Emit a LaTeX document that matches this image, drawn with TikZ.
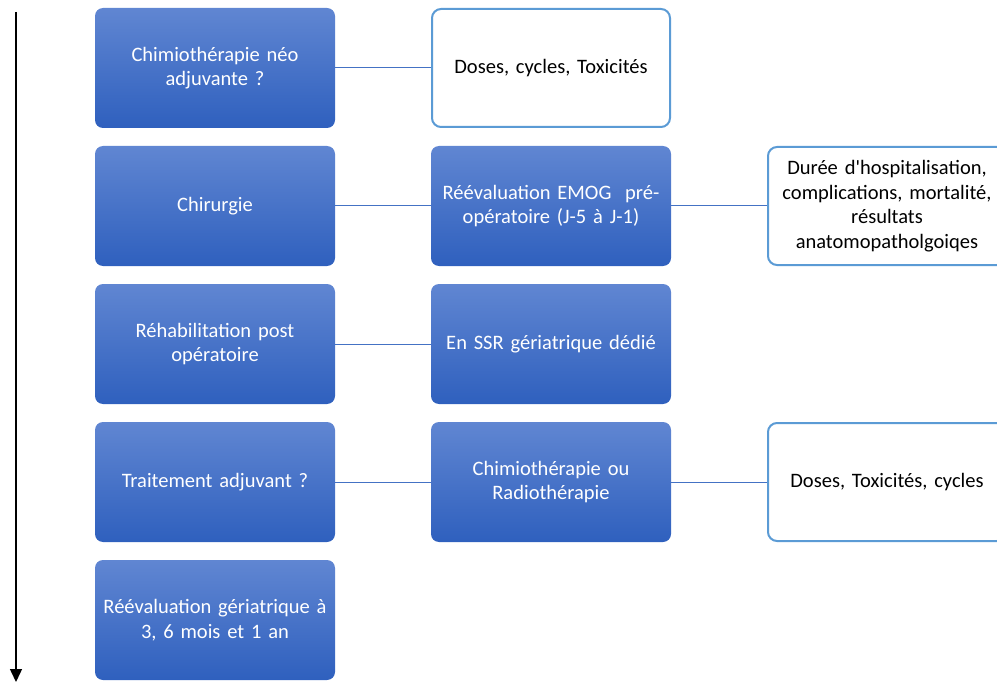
\documentclass[tikz,border=0pt]{standalone}
\usepackage{fontspec}
\setmainfont{Carlito}
\usetikzlibrary{arrows.meta}
\definecolor{gtop}{RGB}{96,134,210}
\definecolor{gbot}{RGB}{47,96,190}
\definecolor{bord}{RGB}{91,155,213}
\definecolor{conn}{RGB}{68,114,196}
\begin{document}
\begin{tikzpicture}[x=1pt,y=-1pt,
  bluebox/.style={rounded corners=8pt, top color=gtop, bottom color=gbot, draw=none,
    minimum width=240pt, minimum height=120pt, text width=236pt, align=center,
    text=white, font=\fontsize{20.5pt}{24.5pt}\selectfont, inner sep=0pt},
  whitebox/.style={rounded corners=9pt, fill=white, draw=bord, line width=2pt,
    minimum width=238pt, minimum height=118pt, text width=234pt, align=center,
    text=black, font=\fontsize{20.5pt}{24.5pt}\selectfont, inner sep=0pt},
  link/.style={draw=conn, line width=1pt}]
\useasboundingbox (0,0) rectangle (997,682);
\node[bluebox] (l1) at (215,68) {Chimiothérapie néo\\adjuvante ?};
\node[bluebox] (l2) at (215,206) {Chirurgie};
\node[bluebox] (l3) at (215,344) {Réhabilitation post\\opératoire};
\node[bluebox] (l4) at (215,482) {Traitement adjuvant ?};
\node[bluebox] (l5) at (215,620) {Réévaluation gériatrique à\\3, 6 mois et 1 an};
\node[whitebox] (m1) at (551,68) {Doses, cycles, Toxicités};
\node[bluebox] (m2) at (551,206) {Réévaluation EMOG~ pré-\\opératoire (J-5 à J-1)};
\node[bluebox] (m3) at (551,344) {En SSR gériatrique dédié};
\node[bluebox] (m4) at (551,482) {Chimiothérapie ou\\Radiothérapie};
\node[whitebox] (r2) at (887,206) {Durée d\textquotesingle hospitalisation,\\complications, mortalité,\\résultats\\anatomopatholgoiqes};
\node[whitebox] (r4) at (887,482) {Doses, Toxicités, cycles};
\draw[link] (l1) -- (m1);
\draw[link] (l2) -- (m2);
\draw[link] (m2) -- (r2);
\draw[link] (l3) -- (m3);
\draw[link] (l4) -- (m4);
\draw[link] (m4) -- (r4);
\coordinate (a1) at (16,12);
\coordinate (a2) at (16,682);
\draw[line width=1.5pt, -{Triangle[width=12pt,length=13pt]}] (a1) -- (a2);
\end{tikzpicture}
\end{document}
